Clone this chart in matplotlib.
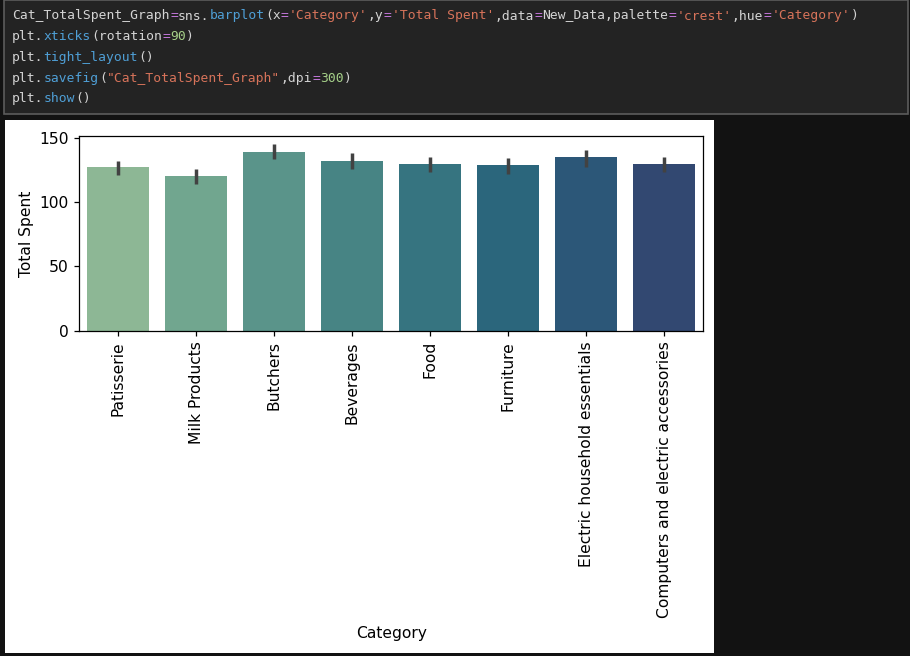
import matplotlib
matplotlib.use("Agg")
import matplotlib.pyplot as plt
import seaborn as sns
from matplotlib.patches import Rectangle

W, H, DPI = 910, 656, 100

categories = [
    "Patisserie", "Milk Products", "Butchers", "Beverages",
    "Food", "Furniture", "Electric household essentials",
    "Computers and electric accessories",
]
total_spent = [127.0, 120.0, 139.1, 132.1, 129.6, 128.6, 134.8, 129.6]
ci_low = [121.0, 114.0, 133.4, 125.7, 123.1, 122.0, 127.4, 123.1]
ci_high = [132.1, 125.4, 145.3, 138.3, 135.0, 134.0, 140.4, 135.0]
y_ticks = [0, 50, 100, 150]

# notebook cell text, tokenised for colouring
TXT, OP, FN, STR, NUM = "#d4d4d4", "#c678dd", "#4f9fd6", "#d7735a", "#a6d189"
code_lines = [
    [("Cat_TotalSpent_Graph", TXT), ("=", OP), ("sns.", TXT), ("barplot", FN),
     ("(x", TXT), ("=", OP), ("'Category'", STR), (",y", TXT), ("=", OP),
     ("'Total Spent'", STR), (",data", TXT), ("=", OP), ("New_Data,palette", TXT),
     ("=", OP), ("'crest'", STR), (",hue", TXT), ("=", OP), ("'Category'", STR),
     (")", TXT)],
    [("plt.", TXT), ("xticks", FN), ("(rotation", TXT), ("=", OP), ("90", NUM), (")", TXT)],
    [("plt.", TXT), ("tight_layout", FN), ("()", TXT)],
    [("plt.", TXT), ("savefig", FN), ("(", TXT), ('"Cat_TotalSpent_Graph"', STR),
     (",dpi", TXT), ("=", OP), ("300", NUM), (")", TXT)],
    [("plt.", TXT), ("show", FN), ("()", TXT)],
]

fig = plt.figure(figsize=(W / DPI, H / DPI), dpi=DPI, facecolor="#121212")

# background layer in pixel coordinates
bg = fig.add_axes([0, 0, 1, 1], zorder=0)
bg.set_xlim(0, W)
bg.set_ylim(H, 0)
bg.axis("off")
bg.add_patch(Rectangle((4, 0), 904, 114, facecolor="#232323",
                       edgecolor="#5c5c5c", linewidth=1.2))
bg.add_patch(Rectangle((5, 120), 709, 533, facecolor="white", edgecolor="none"))

code_size = 9.4
char_w = code_size * DPI / 72 * 0.602 + 0.05
for i, line in enumerate(code_lines):
    col = 0
    y = 16 + i * 20.7
    for token, color in line:
        bg.text(12 + col * char_w, y, token, color=color, va="center", ha="left",
                family="DejaVu Sans Mono", fontsize=code_size)
        col += len(token)

# the chart itself
scale = 1.12
plt.rcParams.update({
    "font.size": 10 * scale,
    "axes.linewidth": 0.8 * scale,
    "xtick.major.size": 3.5 * scale,
    "ytick.major.size": 3.5 * scale,
    "xtick.major.width": 0.8 * scale,
    "ytick.major.width": 0.8 * scale,
})

ax = fig.add_axes([79 / W, 1 - 330.7 / H, (703.3 - 79) / W, (330.7 - 136.3) / H], zorder=1)
colors = [sns.desaturate(c, 0.75) for c in sns.color_palette("crest", len(categories))]
x = list(range(len(categories)))
ax.bar(x, total_spent, width=0.8, color=colors)
ax.vlines(x, ci_low, ci_high, color=".26", linewidth=2.5)
ax.set_xlim(-0.5, len(categories) - 0.5)
ax.set_ylim(0, 151)
ax.set_yticks(y_ticks)
ax.set_xticks(x)
ax.set_xticklabels(categories, rotation=90)
ax.set_xlabel("Category", labelpad=6)
ax.set_ylabel("Total Spent")

fig.savefig("out.png", dpi=DPI, facecolor=fig.get_facecolor())
